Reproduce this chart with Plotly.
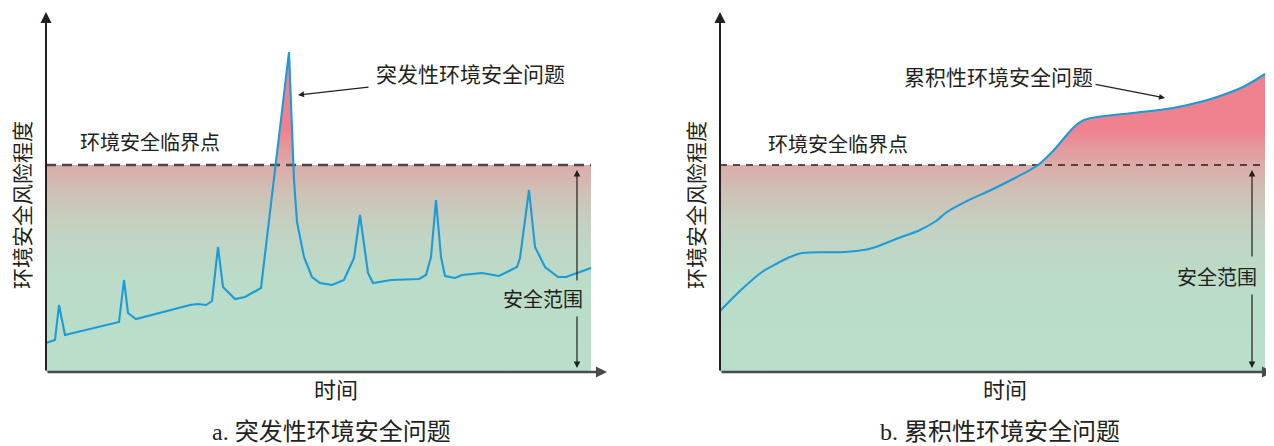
import plotly.graph_objects as go

# panel a: sudden environmental safety problems (time, risk level)
time_a = [0, 9, 13, 19, 73, 78, 82, 90, 144, 152, 160, 166, 172, 177, 189, 199, 215,
          243, 248, 251, 258, 266, 274, 286, 298, 308, 314, 322, 327, 345, 373, 380,
          385, 390, 395, 399, 409, 416, 436, 453, 471, 474, 483, 489, 499, 512, 520, 545]
risk_a = [29, 32, 67, 37, 50, 92, 59, 53, 67, 68, 67, 71, 125, 85, 73, 75, 84,
          320, 192, 150, 115, 95, 89, 87, 92, 114, 157, 99, 89, 92, 93, 97,
          115, 172, 115, 96, 94, 97, 99, 96, 105, 114, 182, 125, 105, 95, 95, 104]

# panel b: cumulative environmental safety problems
time_b = [0, 21, 42, 58, 70, 82, 125, 149, 176, 200, 216, 227, 247, 271, 295, 318,
          333, 345, 354, 364, 377, 413, 453, 480, 497, 523, 545]
risk_b = [61, 82, 100, 109, 115, 119, 120, 123, 133, 142, 151, 160, 171, 182, 194, 207,
          221, 235, 245, 252, 255, 259, 264, 270, 275, 285, 298]

threshold = 207
t_end = 545

FONT = "Liberation Serif, Noto Sans CJK SC"
TXT = "#231f20"
BLUE = "#1b9bd8"

bg_scale = [[0, "#b9dfca"], [0.45, "#bbdcc8"], [0.68, "#c2d3c3"],
            [0.85, "#cdc3b7"], [1, "#dcaca9"]]
pink_scale = [[0, "#dcaca9"], [1, "#f0828f"]]


def clip_above(xs, ys, level):
    cx, cy = [], []
    for i in range(len(xs)):
        if i > 0 and (ys[i - 1] - level) * (ys[i] - level) < 0:
            f = (level - ys[i - 1]) / (ys[i] - ys[i - 1])
            cx.append(xs[i - 1] + f * (xs[i] - xs[i - 1]))
            cy.append(level)
        cx.append(xs[i])
        cy.append(max(ys[i], level))
    return cx, cy


fig = go.Figure()


def add_panel(xref, times, risks, shape, dash_style):
    xa = "x" if xref == "x" else "x2"
    # background gradient (safe zone)
    fig.add_trace(go.Scatter(
        x=[0, t_end, t_end, 0, 0], y=[0, 0, threshold, threshold, 0],
        xaxis=xa, yaxis="y", mode="none", fill="toself",
        fillgradient=dict(type="vertical", colorscale=bg_scale, start=0, stop=threshold),
        hoverinfo="skip"))
    # pink area above the threshold
    cx, cy = clip_above(times, risks, threshold)
    fig.add_trace(go.Scatter(
        x=[cx[0], cx[-1]], y=[threshold, threshold], xaxis=xa, yaxis="y",
        mode="lines", line=dict(width=0), hoverinfo="skip"))
    fig.add_trace(go.Scatter(
        x=cx, y=cy, xaxis=xa, yaxis="y", mode="lines", line=dict(width=0, shape=shape),
        fill="tonexty",
        fillgradient=dict(type="vertical", colorscale=pink_scale,
                          start=threshold, stop=threshold + 35),
        hoverinfo="skip"))
    # threshold line
    fig.add_trace(go.Scatter(
        x=[0, dash_style["end"]], y=[threshold, threshold], xaxis=xa, yaxis="y",
        mode="lines",
        line=dict(color=dash_style["color"], width=dash_style["width"], dash=dash_style["dash"]),
        hoverinfo="skip"))
    # risk curve
    fig.add_trace(go.Scatter(
        x=times, y=risks, xaxis=xa, yaxis="y", mode="lines",
        line=dict(color=BLUE, width=2.1, shape=shape), hoverinfo="skip"))


add_panel("x", time_a, risk_a, "linear",
          dict(end=545, color="#4a4a4a", width=2.4, dash="10px,6px"))
add_panel("x2", time_b, risk_b, "spline",
          dict(end=540, color="#231f20", width=1.3, dash="7px,6px"))


def arrow(xref, x, y, ax, ay, width, size, color="#231f20"):
    fig.add_annotation(xref=xref, yref="y", axref=xref, ayref="y", x=x, y=y, ax=ax, ay=ay,
                       text="", showarrow=True, arrowhead=2, arrowsize=size,
                       arrowwidth=width, arrowcolor=color, standoff=0)


def label(xref, x, y, text, size, angle=0):
    fig.add_annotation(xref=xref, yref="y", x=x, y=y, text=text, showarrow=False,
                       textangle=angle, font=dict(family=FONT, size=size, color=TXT))


panels = [
    dict(xref="x", axis_end=561, safe_x=531, gap=(57, 90), safe_lbl=(497, 72),
         crit=(104, 229), prob=(424, 297, "突发性环境安全问题"),
         parrow=(252, 277, 324, 285), time_x=290, caption="a. 突发性环境安全问题"),
    dict(xref="x2", axis_end=553, safe_x=532, gap=(79, 114), safe_lbl=(497, 94),
         crit=(118, 227), prob=(278, 294, "累积性环境安全问题"),
         parrow=(445, 274, 374, 288), time_x=285, caption="b. 累积性环境安全问题"),
]

for p in panels:
    xr = p["xref"]
    # axes with arrow heads
    arrow(xr, 0, 360, 0, 0, 2, 1.1)
    arrow(xr, p["axis_end"], 0, 0, 0, 2.6, 0.85, color="#4a4a4a")
    # safe range double arrow
    arrow(xr, p["safe_x"], threshold - 5, p["safe_x"], p["gap"][1], 1.2, 1.1)
    arrow(xr, p["safe_x"], 4, p["safe_x"], p["gap"][0], 1.2, 1.1)
    label(xr, p["safe_lbl"][0], p["safe_lbl"][1], "安全范围", 20)
    label(xr, p["crit"][0], p["crit"][1], "环境安全临界点", 20)
    label(xr, p["prob"][0], p["prob"][1], p["prob"][2], 21)
    pa = p["parrow"]
    arrow(xr, pa[0], pa[1], pa[2], pa[3], 1.2, 1.0)
    label(xr, -23, 167, "环境安全风险程度", 21, angle=-90)
    label(xr, p["time_x"], -18, "时间", 22)
    label(xr, p["time_x"] - 5, -60, p["caption"], 24)

# the page body adds an 8px offset, so the figure is 8px smaller and ranges are shifted
axis_style = dict(visible=False, showgrid=False, zeroline=False, fixedrange=True)
fig.update_layout(
    width=1266, height=438,
    margin=dict(l=0, r=0, t=0, b=0),
    paper_bgcolor="white", plot_bgcolor="rgba(0,0,0,0)",
    showlegend=False,
    xaxis=dict(domain=[0, 0.5], range=[-38, 595], **axis_style),
    xaxis2=dict(domain=[0.5, 1], range=[-79, 554], anchor="y", **axis_style),
    yaxis=dict(domain=[0, 1], range=[-74, 364], **axis_style),
)

fig.write_html("out.html")
